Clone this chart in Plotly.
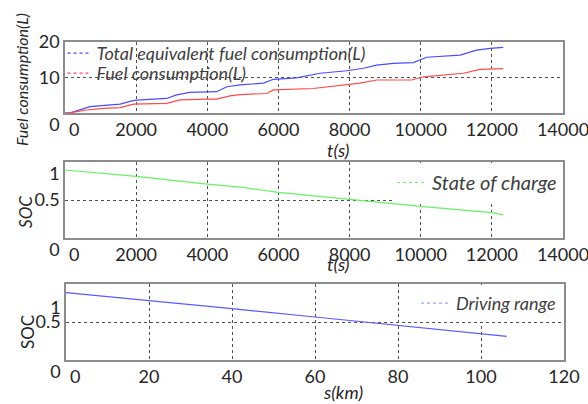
import plotly.graph_objects as go

# ---- data ----
t_total = [0, 170, 700, 1070, 1550, 1910, 2110, 2860, 3140, 3510, 3980, 4260, 4550, 4920,
           5580, 5860, 6510, 7170, 7920, 8390, 8760, 9230, 9790, 10170, 11110, 11570, 11950, 12320]
total_fuel = [0, 0.1, 1.8, 2.1, 2.5, 3.5, 3.7, 4.1, 5.1, 5.8, 6.0, 6.0, 7.4, 7.9,
              8.4, 9.5, 9.9, 11.2, 11.9, 12.6, 13.5, 14.0, 14.2, 15.7, 16.3, 17.7, 18.2, 18.5]

t_fuel = [0, 170, 610, 1080, 1550, 1920, 2860, 3230, 3980, 4260, 4640, 4920, 5670, 5860,
          6980, 7830, 8290, 8760, 9750, 10080, 11200, 11670, 12320]
fuel = [0, 0.1, 0.85, 1.3, 1.5, 2.5, 2.7, 3.7, 3.9, 3.9, 4.8, 5.2, 5.5, 6.5,
        6.9, 7.9, 8.4, 9.3, 9.3, 10.2, 11.2, 12.3, 12.5]

t_soc = [0, 2000, 4000, 5000, 6000, 8000, 10000, 12000, 12320]
soc = [0.895, 0.81, 0.71, 0.665, 0.60, 0.51, 0.415, 0.335, 0.305]

s_km = [0, 20, 40, 60, 80, 100, 106.2]
soc_range = [0.886, 0.785, 0.675, 0.566, 0.456, 0.346, 0.31]

t_ticks = [0, 2000, 4000, 6000, 8000, 10000, 12000, 14000]
fuel_ticks = [0, 10, 20]
soc_ticks = [0, 0.5, 1]
km_ticks = [0, 20, 40, 60, 80, 100, 120]

NB = "\u00a0"
t_labels = [NB * 4 + "0"] + [str(v) for v in t_ticks[1:]]
km_labels = [NB * 4 + "0"] + [str(v) for v in km_ticks[1:]]
fuel_labels = [NB + "<br>0", "10", "20"]
soc_labels2 = [NB + "<br>0", "0.5", NB + "<br>1"]
soc_labels3 = [NB + "<br>0", "0.5", NB + "<br>" + NB + "<br>1"]

BLUE = "#4b4bff"
RED = "#ff4a4a"
GREEN = "#66f266"
BLUE2 = "#5a5aff"
FONT = "Lato"

fig = go.Figure()

# plotted lines (solid)
fig.add_trace(go.Scatter(x=t_total, y=total_fuel, mode="lines", line=dict(color=BLUE, width=1.2),
                         showlegend=False, xaxis="x", yaxis="y"))
fig.add_trace(go.Scatter(x=t_fuel, y=fuel, mode="lines", line=dict(color=RED, width=1.2),
                         showlegend=False, xaxis="x", yaxis="y"))
fig.add_trace(go.Scatter(x=t_soc, y=soc, mode="lines", line=dict(color=GREEN, width=1.2),
                         showlegend=False, xaxis="x2", yaxis="y2"))
fig.add_trace(go.Scatter(x=s_km, y=soc_range, mode="lines", line=dict(color=BLUE2, width=1.2),
                         showlegend=False, xaxis="x3", yaxis="y3"))

# legend entries (dashed samples)
fig.add_trace(go.Scatter(x=[None], y=[None], mode="lines", name="Total equivalent fuel consumption(L)",
                         line=dict(color=BLUE, width=1.2, dash="dot"), legend="legend", xaxis="x", yaxis="y"))
fig.add_trace(go.Scatter(x=[None], y=[None], mode="lines", name="Fuel consumption(L)",
                         line=dict(color=RED, width=1.2, dash="dot"), legend="legend4", xaxis="x", yaxis="y"))
fig.add_trace(go.Scatter(x=[None], y=[None], mode="lines", name="State of charge",
                         line=dict(color=GREEN, width=1.2, dash="dot"), legend="legend2", xaxis="x2", yaxis="y2"))
fig.add_trace(go.Scatter(x=[None], y=[None], mode="lines", name="Driving range",
                         line=dict(color="#9aa6ff", width=1.2, dash="dot"), legend="legend3", xaxis="x3", yaxis="y3"))

W, H = 588, 404

def xd(px):
    return px / W

def yd(py):
    return 1 - py / H

axis_common = dict(
    showline=True, linecolor="#8c8c8c", linewidth=1.5, mirror=True,
    showgrid=True, gridcolor="#505050", gridwidth=1, griddash="dot",
    zeroline=False, ticks="", automargin=False, ticklabeloverflow="allow",
    tickfont=dict(family=FONT, size=18, color="#262626"),
)

leg_font = dict(family=FONT, color="#404040", style="italic")
CLEAR = "rgba(255,255,255,0)"

fig.update_layout(
    width=W, height=H,
    margin=dict(l=0, r=0, t=0, b=0),
    paper_bgcolor="white", plot_bgcolor="white",
    xaxis=dict(domain=[xd(65), xd(563)], range=[0, 14000], tickvals=t_ticks, ticktext=t_labels,
               anchor="y", **axis_common),
    yaxis=dict(domain=[yd(113), yd(42)], range=[0, 20], tickvals=fuel_ticks, ticktext=fuel_labels,
               anchor="x", **axis_common),
    xaxis2=dict(domain=[xd(65), xd(563)], range=[0, 14000], tickvals=t_ticks, ticktext=t_labels,
                anchor="y2", **axis_common),
    yaxis2=dict(domain=[yd(238), yd(162)], range=[0, 1], tickvals=soc_ticks, ticktext=soc_labels2,
                anchor="x2", **axis_common),
    xaxis3=dict(domain=[xd(66), xd(564)], range=[0, 120], tickvals=km_ticks, ticktext=km_labels,
                anchor="y3", **axis_common),
    yaxis3=dict(domain=[yd(360), yd(284)], range=[0, 1], tickvals=soc_ticks, ticktext=soc_labels3,
                anchor="x3", **axis_common),
    legend=dict(x=xd(66.5), y=yd(35), xanchor="left", yanchor="top", bgcolor=CLEAR,
                font=dict(size=18, **leg_font), borderwidth=0, itemwidth=30, indentation=-10),
    legend4=dict(x=xd(66.5), y=yd(55), xanchor="left", yanchor="top", bgcolor=CLEAR,
                 font=dict(size=18, **leg_font), borderwidth=0, itemwidth=30, indentation=-10),
    legend2=dict(x=xd(562), y=yd(163), xanchor="right", yanchor="top", bgcolor="white",
                 font=dict(size=20, **leg_font), borderwidth=0, itemwidth=30),
    legend3=dict(x=xd(561), y=yd(285), xanchor="right", yanchor="top", bgcolor="white",
                 font=dict(size=18, **leg_font), borderwidth=0, itemwidth=30),
)

# white backing behind the top-panel legend texts (between gridlines and traces)
fig.add_shape(type="rect", xref="paper", yref="paper", x0=xd(95), x1=xd(368), y0=yd(63), y1=yd(43),
              fillcolor="white", line=dict(width=0), layer="between")
fig.add_shape(type="rect", xref="paper", yref="paper", x0=xd(95), x1=xd(250), y0=yd(83), y1=yd(63),
              fillcolor="white", line=dict(width=0), layer="between")

title_font = dict(family=FONT, size=18, color="#262626", style="italic")
ann = dict(xref="paper", yref="paper", showarrow=False, xanchor="center", yanchor="middle")
fig.add_annotation(text="t(s)", x=xd(338), y=yd(150), font=title_font, **ann)
fig.add_annotation(text="t(s)", x=xd(338), y=yd(264), font=title_font, **ann)
fig.add_annotation(text="s(km)", x=xd(343), y=yd(392), font=title_font, **ann)
fig.add_annotation(text="Fuel consumption(L)", x=xd(22), y=yd(80), textangle=-90,
                   font=dict(family=FONT, size=16, color="#262626", style="italic"), **ann)
fig.add_annotation(text="SOC", x=xd(25), y=yd(212), textangle=-90,
                   font=dict(family=FONT, size=17, color="#262626", style="italic"), **ann)
fig.add_annotation(text="SOC", x=xd(27), y=yd(332), textangle=-90,
                   font=dict(family=FONT, size=17, color="#262626"), **ann)

fig.write_html("out.html", config={"displayModeBar": False},
               post_script="document.body.style.margin='0';document.body.style.overflow='hidden';")
